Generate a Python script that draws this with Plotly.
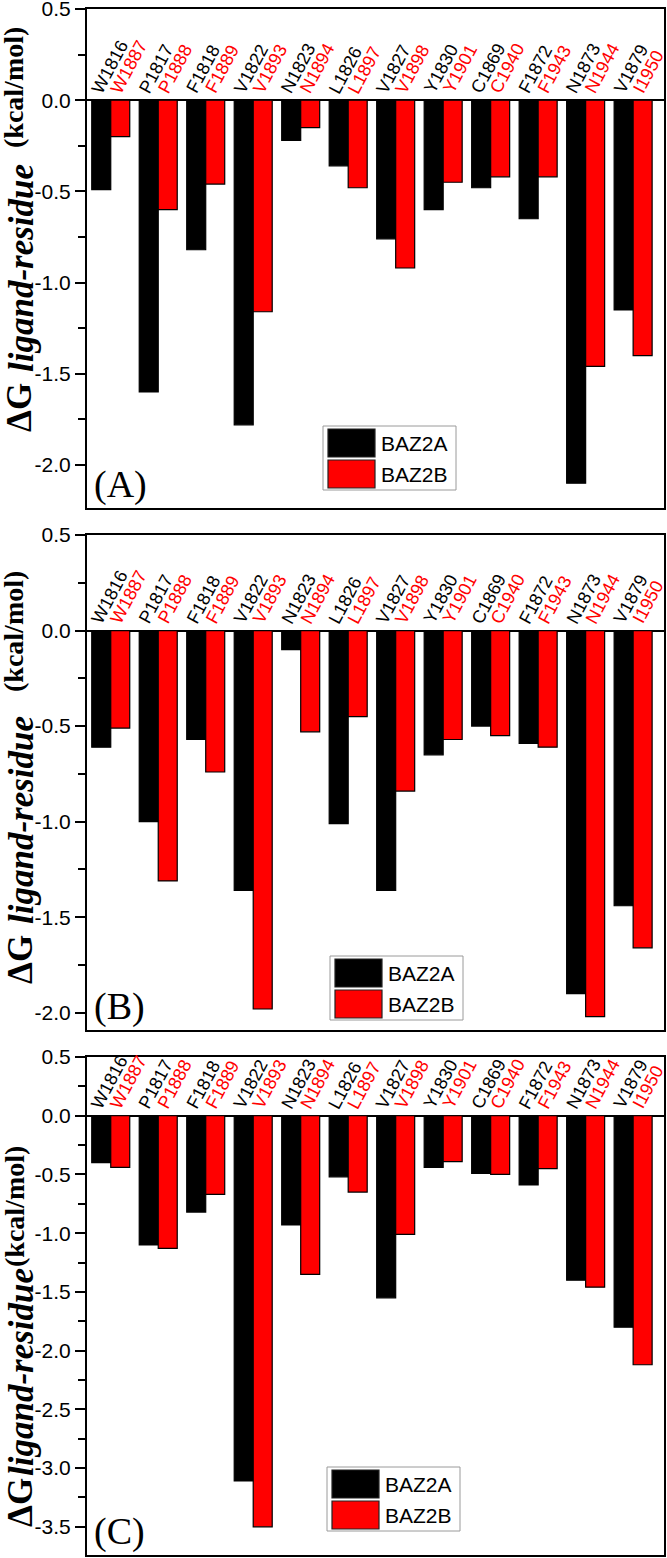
import plotly.graph_objects as go

# residue names (BAZ2A black, BAZ2B red)
res_baz2a = ["W1816", "P1817", "F1818", "V1822", "N1823", "L1826",
             "V1827", "Y1830", "C1869", "F1872", "N1873", "V1879"]
res_baz2b = ["W1887", "P1888", "F1889", "V1893", "N1894", "L1897",
             "V1898", "Y1901", "C1940", "F1943", "N1944", "I1950"]

# ΔG ligand-residue (kcal/mol)
dg_A_baz2a = [-0.49, -1.60, -0.82, -1.78, -0.22, -0.36, -0.76, -0.60, -0.48, -0.65, -2.10, -1.15]
dg_A_baz2b = [-0.20, -0.60, -0.46, -1.16, -0.15, -0.48, -0.92, -0.45, -0.42, -0.42, -1.46, -1.40]
dg_B_baz2a = [-0.61, -1.00, -0.57, -1.36, -0.10, -1.01, -1.36, -0.65, -0.50, -0.59, -1.90, -1.44]
dg_B_baz2b = [-0.51, -1.31, -0.74, -1.98, -0.53, -0.45, -0.84, -0.57, -0.55, -0.61, -2.02, -1.66]
dg_C_baz2a = [-0.40, -1.10, -0.82, -3.11, -0.93, -0.52, -1.55, -0.44, -0.49, -0.59, -1.40, -1.80]
dg_C_baz2b = [-0.44, -1.13, -0.67, -3.50, -1.35, -0.65, -1.01, -0.39, -0.50, -0.45, -1.46, -2.12]

# y tick values per panel
ticks_A = [0.5, 0.0, -0.5, -1.0, -1.5, -2.0]
ticks_B = [0.5, 0.0, -0.5, -1.0, -1.5, -2.0]
ticks_C = [0.5, 0.0, -0.5, -1.0, -1.5, -2.0, -2.5, -3.0, -3.5]

panel_names = ["(A)", "(B)", "(C)"]
series_names = ["BAZ2A", "BAZ2B"]
series_colors = ["#000000", "#ff0000"]

W, H = 667, 1558

# panel frames in pixels: (top, bottom)
frames = [(9, 508), (535, 1030), (1057, 1555)]
x_left, x_right = 87, 664
y_ranges = [[-2.236, 0.5], [-2.09, 0.5], [-3.74, 0.5]]
# legend box top-left (px)
legend_pos = [(323, 426), (330, 956), (327, 1467)]
# y-title part centres (px): ΔG, subscript, (kcal/mol)
title_y = [(408, 268, 88), (960, 820, 632), (1503, 1372, 1207)]

panels = [(dg_A_baz2a, dg_A_baz2b), (dg_B_baz2a, dg_B_baz2b), (dg_C_baz2a, dg_C_baz2b)]
panel_ticks = [ticks_A, ticks_B, ticks_C]
idx = list(range(len(res_baz2a)))


def X(px):
    return px / W


def Y(py):
    return 1 - py / H


fig = go.Figure()
layout = dict(
    width=W, height=H,
    margin=dict(l=0, r=0, t=0, b=0),
    plot_bgcolor="white", paper_bgcolor="white",
    barmode="group", bargap=0.2, bargroupgap=0,
    showlegend=False,
    font=dict(family="Liberation Sans, Arial", color="black"),
)
annotations = []
shapes = []
serif = "Liberation Serif, Times New Roman"

for p, (s1, s2) in enumerate(panels):
    n = "" if p == 0 else str(p + 1)
    xa, ya = "x" + n, "y" + n
    top, bot = frames[p]
    for vals, name, col in zip((s1, s2), series_names, series_colors):
        fig.add_trace(go.Bar(
            x=idx, y=vals, name=name, xaxis=xa, yaxis=ya,
            marker=dict(color=col, line=dict(color="black", width=1.2)),
        ))
    layout["xaxis" + n] = dict(
        domain=[X(x_left), X(x_right)], anchor=ya,
        range=[-0.5, 11.65], showticklabels=False, ticks="",
        showgrid=False, zeroline=False,
        showline=True, linecolor="black", linewidth=2, mirror=True,
    )
    tv = panel_ticks[p]
    layout["yaxis" + n] = dict(
        domain=[Y(bot), Y(top)], anchor=xa,
        range=y_ranges[p], tickmode="array", tickvals=tv,
        ticktext=[f"{v:.1f}" for v in tv], ticklabeloverflow="allow",
        ticks="outside", ticklen=10, tickwidth=2, tickcolor="black",
        minor=dict(tickmode="linear", tick0=0, dtick=0.25, ticks="outside",
                   ticklen=7, tickwidth=2, tickcolor="black"),
        tickfont=dict(family="Liberation Sans, Arial", size=21, color="black"),
        showgrid=False, zeroline=True, zerolinecolor="black", zerolinewidth=1.5,
        showline=True, linecolor="black", linewidth=2, mirror=True,
        automargin=False,
    )
    xd, yd = xa + " domain", ya + " domain"

    # rotated residue labels above each bar
    for i in idx:
        for off, txt, col in ((-0.4, res_baz2a[i], "black"), (0.0, res_baz2b[i], "red")):
            annotations.append(dict(
                x=i + off, y=0, xref=xa, yref=ya, text=txt, showarrow=False,
                textangle=-62, xanchor="left", yanchor="bottom", xshift=-7, yshift=1,
                font=dict(family="Liberation Sans, Arial", size=18, color=col),
            ))

    # y-axis title in three parts
    ty = title_y[p]
    for txt, size, cx, cy in (
        ("<b>ΔG</b>", 35, 20, ty[0]),
        ("<b><i>ligand-residue</i></b>", 35, 21, ty[1]),
        ("<b>(kcal/mol)</b>", 28, 14, ty[2]),
    ):
        annotations.append(dict(
            x=X(cx), y=Y(cy), xref="paper", yref="paper", text=txt,
            textangle=-90, showarrow=False, xanchor="center", yanchor="middle",
            font=dict(family=serif, size=size, color="black"),
        ))

    # panel letter
    annotations.append(dict(
        x=0.008, y=0.0, xref=xd, yref=yd, text=panel_names[p], showarrow=False,
        xanchor="left", yanchor="bottom",
        font=dict(family=serif, size=38, color="black"),
    ))

    # legend box drawn with shapes
    lx, ly = legend_pos[p]
    pw, ph = x_right - x_left, bot - top

    def fx(px):
        return (px - x_left) / pw

    def fy(py):
        return (bot - py) / ph

    shapes.append(dict(type="rect", xref=xd, yref=yd,
                       x0=fx(lx), x1=fx(lx + 133), y0=fy(ly + 64), y1=fy(ly),
                       line=dict(color="#9a9a9a", width=1), fillcolor="white", layer="above"))
    for k, (name, col) in enumerate(zip(series_names, series_colors)):
        sy = ly + 3 + k * 31
        shapes.append(dict(type="rect", xref=xd, yref=yd,
                           x0=fx(lx + 5), x1=fx(lx + 52), y0=fy(sy + 28), y1=fy(sy),
                           line=dict(color="#222222", width=1.2), fillcolor=col, layer="above"))
        annotations.append(dict(
            x=fx(lx + 56), y=fy(sy + 14), xref=xd, yref=yd, text=name, showarrow=False,
            xanchor="left", yanchor="middle",
            font=dict(family="Liberation Sans, Arial", size=21, color="black"),
        ))

layout["annotations"] = annotations
layout["shapes"] = shapes
fig.update_layout(**layout)
# the page body has a default 8px margin; remove it so the figure fills the window
fig.write_html("out.html", config={"displayModeBar": False},
               post_script="document.body.style.margin='0px';")
